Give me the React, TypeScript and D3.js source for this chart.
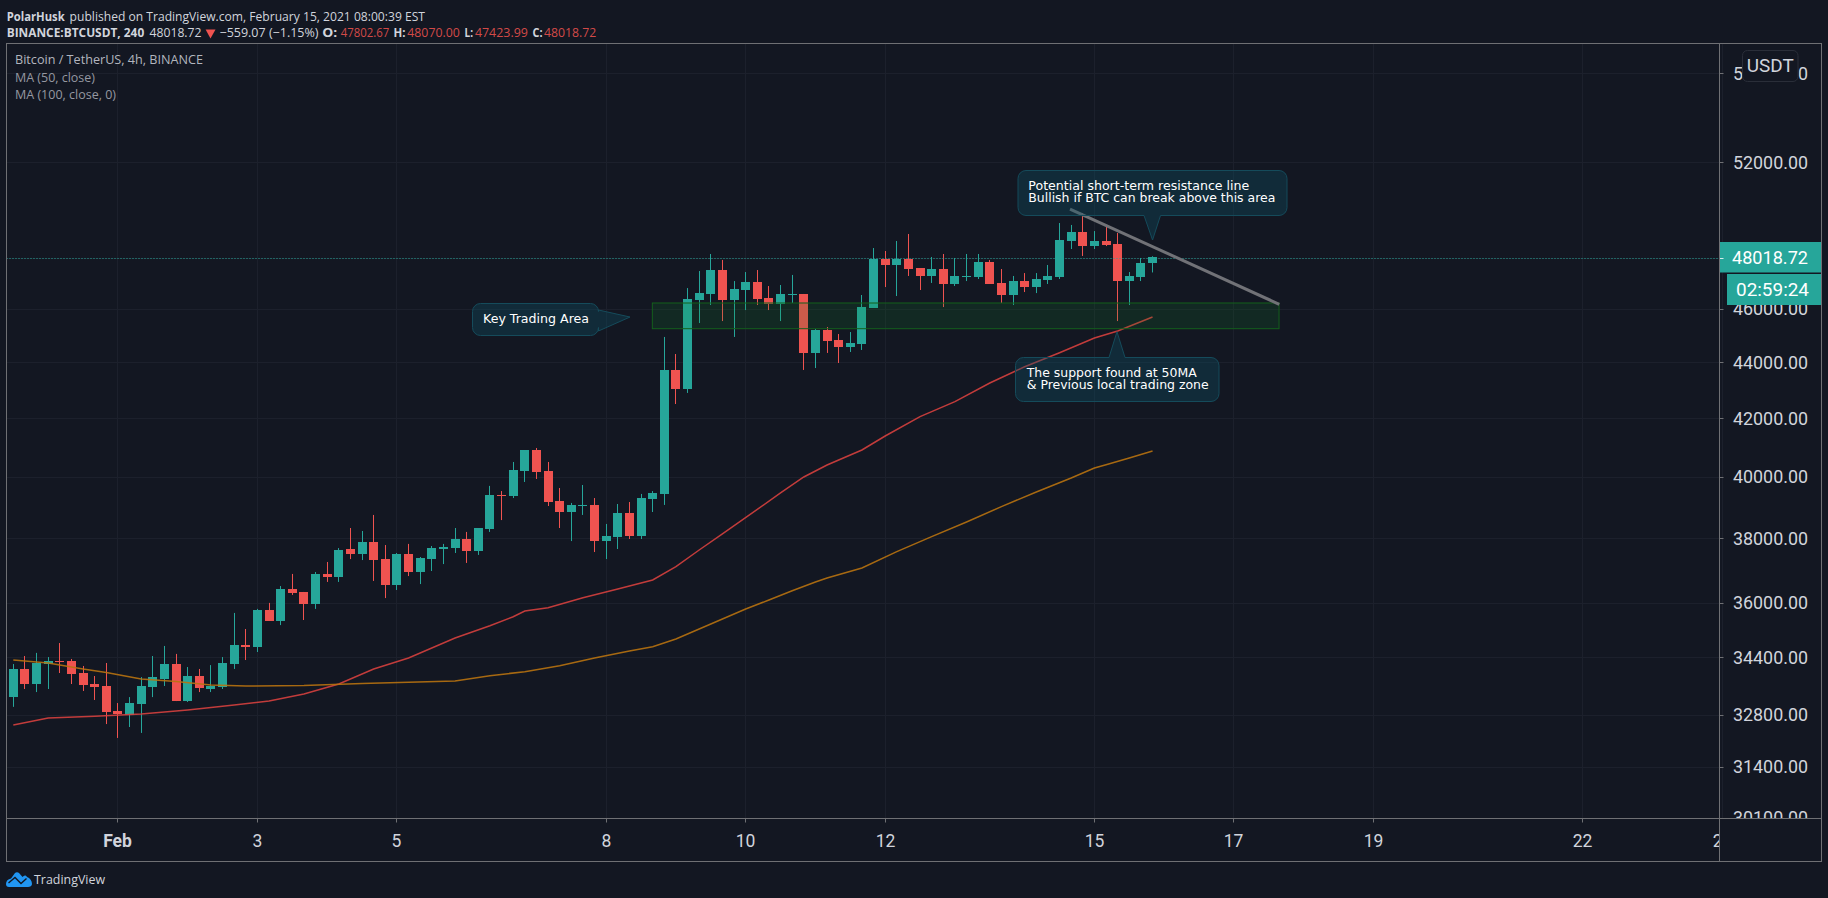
/**
 * App.tsx - BTCUSDT 4h candles with MA lines and callouts, TradingView dark look.
 */
import React from "react";
import * as d3 from "d3";

const opens = [
  33280, 34070, 33650, 34210, 34300, 34300, 33955, 33645, 33590, 32895,
  32785, 33090, 33560, 33785, 34210, 33170, 33870, 33505, 33560, 34210,
  34760, 34700, 35790, 35460, 36420, 36330, 35970, 36880, 36785, 37655,
  37500, 37875, 37340, 36540, 37500, 36940, 37340, 37655, 37690, 37970,
  37590, 38290, 39390, 39355, 40185, 40895, 40185, 39195, 38835, 39030,
  39065, 37905, 38035, 38805, 38065, 39260, 39425, 43720, 43030, 46345,
  46580, 47520, 46345, 46735, 47050, 46425, 46195, 46540, 46580, 44345,
  45200, 44825, 44565, 44675, 46040, 47960, 47720, 47960, 47600, 47285,
  47560, 46970, 47245, 47245, 47840, 47010, 46540, 47085, 46850, 47125,
  47245, 48685, 49050, 48480, 48685, 48560, 47085, 47245, 47803,
];
const highs = [
  34210, 34440, 34530, 34410, 34815, 34355, 34155, 33870, 34240, 33115,
  33280, 33840, 34440, 34730, 34500, 34125, 34070, 34180, 34410, 35700,
  35225, 35820, 36000, 36510, 36880, 36330, 36940, 37250, 37685, 38320,
  38225, 38740, 37780, 37530, 37815, 37405, 37750, 37815, 38320, 38195,
  38320, 39690, 39520, 40490, 40895, 40965, 40490, 39620, 39130, 39720,
  39290, 38450, 39095, 39160, 39425, 39520, 44940, 44305, 46810, 47480,
  48160, 47920, 47085, 47440, 47520, 46890, 46930, 47325, 46580, 45240,
  45315, 45050, 45125, 46540, 48400, 48280, 48685, 48970, 47600, 48040,
  48160, 48000, 48160, 48160, 47920, 47560, 47285, 47400, 47400, 47720,
  49420, 49340, 49835, 49090, 49295, 49010, 47440, 48000, 48070,
];
const lows = [
  33010, 33505, 33420, 33505, 33955, 33645, 33450, 33200, 32540, 32165,
  32460, 32300, 33280, 33590, 33170, 33145, 33420, 33420, 33505, 34070,
  34325, 34555, 35460, 35340, 36240, 35490, 35820, 36635, 36635, 37340,
  37310, 36665, 36145, 36390, 36815, 36570, 36970, 37185, 37530, 37220,
  37470, 38195, 38575, 39290, 39820, 39920, 39030, 38320, 37905, 38740,
  37560, 37340, 37655, 37970, 37970, 38835, 39065, 42495, 42890, 45465,
  46155, 45540, 44940, 45960, 46155, 45960, 45540, 46230, 43720, 43790,
  44345, 43975, 44380, 44455, 46040, 46850, 46500, 47285, 46735, 47010,
  46075, 46890, 47085, 47165, 46970, 46230, 46155, 46655, 46615, 46970,
  47165, 48360, 48080, 48360, 48480, 45540, 46155, 47085, 47424,
];
const closes = [
  34070, 33650, 34240, 34300, 34270, 33930, 33620, 33560, 32870, 32815,
  33115, 33590, 33840, 34210, 33170, 33870, 33535, 33590, 34240, 34760,
  34700, 35790, 35460, 36420, 36300, 35970, 36880, 36785, 37625, 37500,
  37875, 37310, 36540, 37500, 36940, 37375, 37690, 37720, 37970, 37590,
  38320, 39390, 39355, 40220, 40895, 40155, 39160, 38835, 39065, 39065,
  37905, 38065, 38805, 38065, 39290, 39455, 43720, 43030, 46385, 46615,
  47520, 46345, 46775, 47050, 46385, 46195, 46580, 46580, 44345, 45200,
  44790, 44565, 44715, 46075, 47960, 47720, 47960, 47560, 47285, 47560,
  46970, 47285, 47285, 47840, 46970, 46540, 47085, 46850, 47165, 47285,
  48725, 49050, 48480, 48685, 48520, 47085, 47285, 47800, 48019,
];

// moving averages, read at the candle indexes below
const ma50Index = [0, 3, 7, 11, 15, 19, 22, 25, 28, 31, 34, 38, 41, 43, 44, 46, 49, 52, 55, 57, 59, 61, 66, 68, 70, 73, 75, 78, 81, 84, 87, 90, 93, 95, 98];
const ma50Values = [
  32515, 32704, 32750, 32813, 32923, 33061, 33171, 33366, 33645, 34068, 34382, 34961,
  35322, 35587, 35757, 35856, 36157, 36419, 36694, 37105, 37624, 38130, 39456, 39986,
  40389, 40897, 41377, 42049, 42578, 43247, 43838, 44354, 44901, 45164, 45693,
];
const ma100Index = [0, 3, 6, 8, 11, 14, 17, 20, 25, 30, 34, 38, 41, 44, 47, 50, 53, 55, 57, 60, 63, 65, 67, 69, 70, 73, 76, 79, 82, 85, 88, 91, 93, 94, 96, 98];
const ma100Values = [
  34325, 34240, 34068, 33969, 33785, 33715, 33617, 33589, 33603, 33659, 33693, 33729,
  33879, 33992, 34162, 34382, 34584, 34709, 34932, 35372, 35817, 36087, 36368, 36633,
  36756, 37063, 37571, 38044, 38513, 39010, 39489, 39952, 40287, 40399, 40625, 40863,
];

const priceTicks = [56000, 52000, 48000, 46000, 44000, 42000, 40000, 38000, 36000, 34400, 32800, 31400, 30100];
const timeTickIndex = [9, 21, 33, 51, 63, 75, 93, 105, 117, 135, 147];
const timeTickLabels = ["Feb", "3", "5", "8", "10", "12", "15", "17", "19", "22", "24"];

const lastPrice = 48018.72;
const zonePrices = [46231, 45250];
const zoneIndex = [54.97, 108.88];
const trendIndex = [90.9, 108.9];
const trendPrices = [50000, 46180];

const BG = "#131722";
const UP = "#26a69a";
const DOWN = "#ef5350";
const FRAME = "#6f7074";
const GRID = "#1c202c";
const AXIS_TEXT = "#d1d4dc";
const UI_FONT = "'Open Sans', 'Noto Sans', sans-serif";
const AXIS_FONT = "Roboto, sans-serif";
const NOTE_FONT = "'DejaVu Sans', sans-serif";

const PANE = { left: 6.5, right: 1719.5, top: 43.5, bottom: 818.5, outerRight: 1821.5, outerBottom: 861.5 };

const x = d3.scaleLinear().domain([0, 147]).range([13.3, 13.3 + 147 * 11.625]);
const y = d3.scaleLog().domain([30100, 52000]).range([817.5, 162]);

const maLine = d3.line<number>().curve(d3.curveLinear);

function linePath(index: number[], values: number[]) {
  return maLine.x((_, i) => x(index[i])).y((d) => y(d))(values) ?? "";
}

// box with a pointer to a tip, base of the pointer given along one side
function calloutPath(bx: number, by: number, w: number, h: number, tip: [number, number], base: [number, number], side: "top" | "bottom" | "right") {
  const r = 8;
  const p = d3.path();
  p.moveTo(bx + r, by);
  if (side === "top") {
    p.lineTo(base[0], by); p.lineTo(tip[0], tip[1]); p.lineTo(base[1], by);
  }
  p.lineTo(bx + w - r, by);
  p.arcTo(bx + w, by, bx + w, by + r, r);
  if (side === "right") {
    p.lineTo(bx + w, base[0]); p.lineTo(tip[0], tip[1]); p.lineTo(bx + w, base[1]);
  }
  p.lineTo(bx + w, by + h - r);
  p.arcTo(bx + w, by + h, bx + w - r, by + h, r);
  if (side === "bottom") {
    p.lineTo(base[1], by + h); p.lineTo(tip[0], tip[1]); p.lineTo(base[0], by + h);
  }
  p.lineTo(bx + r, by + h);
  p.arcTo(bx, by + h, bx, by + h - r, r);
  p.lineTo(bx, by + r);
  p.arcTo(bx, by, bx + r, by, r);
  p.closePath();
  return p.toString();
}

const Label: React.FC<{ x: number; y: number; w: number; fill?: string; bold?: boolean; size?: number; font?: string; children: string }> = ({
  x: tx, y: ty, w, fill = AXIS_TEXT, bold, size = 12.5, font = UI_FONT, children,
}) => (
  <text x={tx} y={ty} textLength={w} lengthAdjust="spacingAndGlyphs" fill={fill} fontSize={size} fontFamily={font} fontWeight={bold ? 700 : 400}>
    {children}
  </text>
);

const Callout: React.FC<{ d: string; lines: { text: string; x: number; y: number; w: number }[] }> = ({ d, lines }) => (
  <g>
    <path d={d} fill="#0f5064" fillOpacity={0.36} stroke="#154b5b" strokeWidth={1} />
    {lines.map((l) => (
      <Label key={l.text} x={l.x} y={l.y} w={l.w} fill="#ffffff" size={12} font={NOTE_FONT}>{l.text}</Label>
    ))}
  </g>
);

const App: React.FC = () => {
  const red = "#d24a48";
  const lastY = y(lastPrice);

  return (
    <div style={{ position: "fixed", left: 0, top: 0, width: 1828, height: 898, background: BG, overflow: "hidden" }}>
      <svg width={1828} height={898} style={{ display: "block" }}>
        <defs>
          <clipPath id="pane"><rect x={PANE.left} y={PANE.top} width={PANE.right - PANE.left} height={PANE.bottom - PANE.top} /></clipPath>
          <clipPath id="price-axis"><rect x={PANE.right} y={PANE.top} width={102} height={PANE.bottom - PANE.top} /></clipPath>
        </defs>
        <rect width={1828} height={898} fill={BG} />

        {/* Header */}
        <Label x={6.7} y={21} w={58} bold>PolarHusk</Label>
        <Label x={69.6} y={21} w={355.4}>published on TradingView.com, February 15, 2021 08:00:39 EST</Label>
        <Label x={6.7} y={37} w={137.5} bold>BINANCE:BTCUSDT, 240</Label>
        <Label x={149.5} y={37} w={52}>48018.72</Label>
        <path d="M205.6 29.5 L215.5 29.5 L210.5 38.5 Z" fill={DOWN} />
        <Label x={219.5} y={37} w={99}>−559.07 (−1.15%)</Label>
        <Label x={322.3} y={37} w={15} bold>O:</Label>
        <Label x={340.8} y={37} w={48.5} fill={red}>47802.67</Label>
        <Label x={393.4} y={37} w={12} bold>H:</Label>
        <Label x={407.3} y={37} w={52.5} fill={red}>48070.00</Label>
        <Label x={464.6} y={37} w={8.5} bold>L:</Label>
        <Label x={474.9} y={37} w={53} fill={red}>47423.99</Label>
        <Label x={532.6} y={37} w={10} bold>C:</Label>
        <Label x={544} y={37} w={52.3} fill={red}>48018.72</Label>

        {/* Grid */}
        <g stroke={GRID} strokeWidth={1}>
          {priceTicks.map((t) => (
            <line key={t} x1={PANE.left} x2={PANE.right} y1={Math.round(y(t)) + 0.5} y2={Math.round(y(t)) + 0.5} />
          ))}
          {timeTickIndex.map((i) => (
            <line key={i} x1={Math.floor(x(i)) + 0.5} x2={Math.floor(x(i)) + 0.5} y1={PANE.top} y2={PANE.bottom} />
          ))}
        </g>

        <g clipPath="url(#pane)">
          {/* Candles */}
          {opens.map((o, i) => {
            const c = closes[i];
            const fill = c >= o ? UP : DOWN;
            const cx = Math.floor(x(i));
            const top = Math.round(y(Math.max(o, c)));
            const bottom = Math.round(y(Math.min(o, c)));
            return (
              <g key={i} fill={fill}>
                <rect x={cx} y={y(highs[i])} width={1} height={y(lows[i]) - y(highs[i])} />
                <rect x={cx - 4} y={top} width={9} height={Math.max(bottom - top, 1)} />
              </g>
            );
          })}

          {/* Moving averages */}
          <path d={linePath(ma50Index, ma50Values)} fill="none" stroke="#d6403e" strokeOpacity={0.9} strokeWidth={1.5} />
          <path d={linePath(ma100Index, ma100Values)} fill="none" stroke="#b8720f" strokeOpacity={0.9} strokeWidth={1.5} />

          {/* Last price */}
          <line x1={PANE.left} x2={PANE.right} y1={Math.round(lastY) + 0.5} y2={Math.round(lastY) + 0.5} stroke={UP} strokeWidth={1} strokeDasharray="1 2" />

          {/* Trading zone */}
          <rect
            x={x(zoneIndex[0])} y={y(zonePrices[0])}
            width={x(zoneIndex[1]) - x(zoneIndex[0])} height={y(zonePrices[1]) - y(zonePrices[0])}
            fill="#158a2a" fillOpacity={0.16} stroke="#14601c" strokeWidth={1}
          />

          {/* Resistance line */}
          <line
            x1={x(trendIndex[0])} y1={y(trendPrices[0])} x2={x(trendIndex[1])} y2={y(trendPrices[1])}
            stroke="#717277" strokeWidth={3}
          />

          <Callout
            d={calloutPath(1018, 170.5, 269, 45, [x(98), y(48725)], [1144, 1160.5], "bottom")}
            lines={[
              { text: "Potential short-term resistance line", x: 1028.3, y: 190, w: 221 },
              { text: "Bullish if BTC can break above this area", x: 1028.3, y: 202, w: 247 },
            ]}
          />
          <Callout
            d={calloutPath(1015.5, 357.5, 203.5, 44, [x(94.94), y(45137)], [1109, 1125], "top")}
            lines={[
              { text: "The support found at 50MA", x: 1026.7, y: 377, w: 170 },
              { text: "& Previous local trading zone", x: 1026.7, y: 389, w: 182 },
            ]}
          />
          <Callout
            d={calloutPath(472.5, 303.5, 126, 32, [x(53.05), y(45693)], [310, 331], "right")}
            lines={[{ text: "Key Trading Area", x: 483, y: 323, w: 106 }]}
          />
        </g>

        {/* Legend */}
        <Label x={15} y={64} w={188} fill="#b2b5be" size={13}>Bitcoin / TetherUS, 4h, BINANCE</Label>
        <Label x={15} y={81.5} w={80} fill="#9598a1" size={13}>MA (50, close)</Label>
        <Label x={15} y={98.5} w={101} fill="#9598a1" size={13}>MA (100, close, 0)</Label>

        {/* Price axis */}
        <g clipPath="url(#price-axis)">
          {priceTicks.map((t) => (
            <g key={t}>
              <line x1={PANE.right} x2={PANE.right + 4} y1={Math.round(y(t)) + 0.5} y2={Math.round(y(t)) + 0.5} stroke={FRAME} />
              <text x={1733} y={y(t) + 6.5} textLength={75} lengthAdjust="spacingAndGlyphs" fontSize={17.5} fontFamily={AXIS_FONT} fill={AXIS_TEXT}>
                {d3.format(".2f")(t)}
              </text>
            </g>
          ))}
        </g>

        <rect x={1742.5} y={50.5} width={55.5} height={31} rx={5} fill={BG} stroke="#2a2e39" />
        <text x={1746.7} y={71.5} textLength={47} lengthAdjust="spacingAndGlyphs" fontSize={17.5} fontFamily={AXIS_FONT} fill={AXIS_TEXT}>USDT</text>

        <rect x={PANE.right} y={242} width={PANE.outerRight - PANE.right} height={30.5} fill={UP} />
        <line x1={PANE.right} x2={PANE.right + 4} y1={Math.round(lastY) + 0.5} y2={Math.round(lastY) + 0.5} stroke="#ffffff" strokeOpacity={0.8} />
        <text x={1732} y={lastY + 6.5} textLength={76} lengthAdjust="spacingAndGlyphs" fontSize={17.5} fontFamily={AXIS_FONT} fill="#ffffff">
          {lastPrice.toFixed(2)}
        </text>
        <rect x={1727} y={274} width={PANE.outerRight - 1727} height={31} fill={UP} />
        <text x={1736} y={296} textLength={73} lengthAdjust="spacingAndGlyphs" fontSize={17.5} fontFamily={AXIS_FONT} fill="#ffffff">02:59:24</text>

        {/* Time axis */}
        <svg x={PANE.left} y={PANE.bottom} width={PANE.right - PANE.left} height={43} style={{ overflow: "hidden" }}>
          {timeTickIndex.map((i, k) => {
            const tx = Math.floor(x(i)) + 0.5 - PANE.left;
            return (
              <g key={i}>
                <line x1={tx} x2={tx} y1={0} y2={4} stroke={FRAME} />
                <text x={tx} y={28.5} textAnchor="middle" fontSize={17.5} fontFamily={AXIS_FONT} fontWeight={k === 0 ? 700 : 400} fill={AXIS_TEXT}>
                  {timeTickLabels[k]}
                </text>
              </g>
            );
          })}
        </svg>

        {/* Frame */}
        <g fill="none" stroke={FRAME} strokeWidth={1}>
          <rect x={PANE.left} y={PANE.top} width={PANE.outerRight - PANE.left} height={PANE.outerBottom - PANE.top} />
          <line x1={PANE.left} x2={PANE.outerRight} y1={PANE.bottom} y2={PANE.bottom} />
          <line x1={PANE.right} x2={PANE.right} y1={PANE.top} y2={PANE.outerBottom} />
        </g>

        {/* Logo */}
        <g transform="translate(6,872)">
          <path d="M0 12 C0 9 2 7 5 6.5 L9 1 C10 0 12 0 13 1 L16.5 5 C18 3 20 3 21 5 C24 6 26 9 26 12 C26 14 24 15 22 15 L3 15 C1 15 0 14 0 12 Z" fill="#2196f3" />
          <path d="M2.5 11 L9 5.5 L15 11.5 L20.5 6.5" fill="none" stroke={BG} strokeWidth={1.4} />
        </g>
        <Label x={34} y={884} w={71} size={13}>TradingView</Label>
      </svg>
    </div>
  );
};

export default App;
